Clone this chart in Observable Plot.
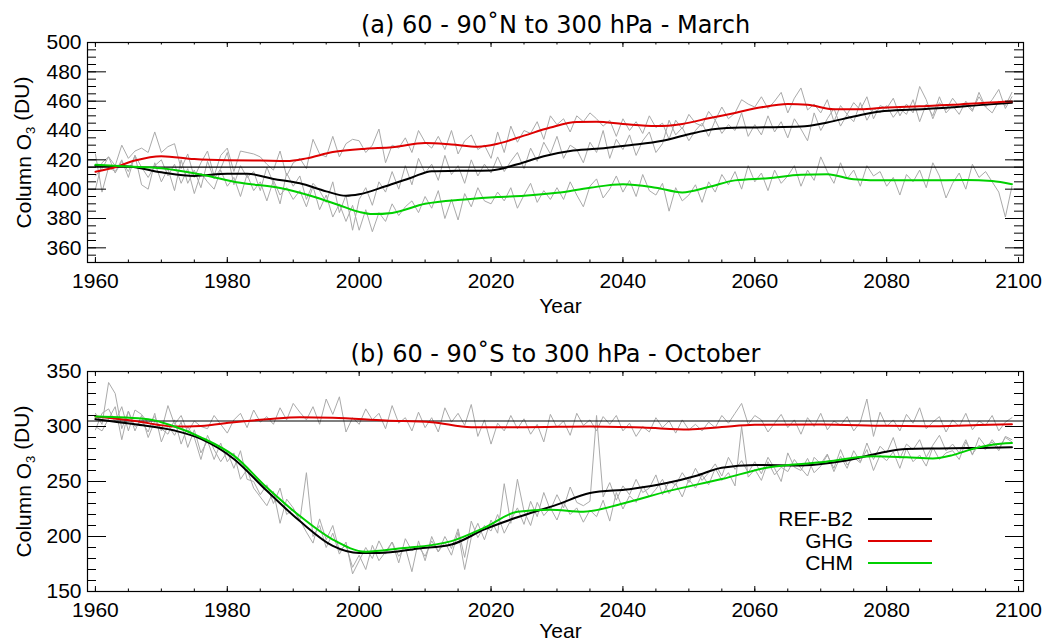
<!DOCTYPE html>
<html><head><meta charset="utf-8">
<script src="https://cdn.jsdelivr.net/npm/d3@7"></script>
<script src="https://cdn.jsdelivr.net/npm/@observablehq/plot@0.6"></script>
<style>
html,body{margin:0;padding:0;background:#fff;}
#wrap{position:relative;width:1054px;height:643px;overflow:hidden;font-family:"Liberation Sans",Arial,sans-serif;}
#wrap svg{position:absolute;left:0;}
.lgt{position:absolute;width:160px;text-align:right;font-size:21px;line-height:24px;color:#000;}
.lgl{position:absolute;width:64px;height:2px;}
</style></head><body><div id="wrap"></div>
<script>
// ---------- data ----------
const years = d3.range(1960, 2100);
const titleA = "(a) 60 - 90˚N to 300 hPa - March";
const titleB = "(b) 60 - 90˚S to 300 hPa - October";
const yLabel = "Column O3 (DU)";
const xLabel = "Year";
const seriesNames = ["REF-B2", "GHG", "CHM"];
const seriesColors = ["#000000", "#dd0000", "#00d000"];
const refLevelA = 415;
const refLevelB = 305;
const xMajorTicks = [1960, 1980, 2000, 2020, 2040, 2060, 2080, 2100];
const yMajorTicksA = [360, 380, 400, 420, 440, 460, 480, 500];
const yMajorTicksB = [150, 200, 250, 300, 350];

// smooth curves, panel a
const refA = [[1960,416],[1965,415.5],[1970,411.5],[1975,409],[1980,410.5],[1983,410.5],[1987,407],[1991,404],[1995,398.5],[1998,395.5],[2000,396.5],[2004,402],[2008,408],[2011,412.3],[2015,412.5],[2020,412.8],[2024,417],[2028,422.5],[2032,426],[2036,427.5],[2041,430],[2046,433],[2050,437.5],[2054,441],[2058,442],[2062,442.2],[2067,442.7],[2071,445.5],[2075,449.5],[2079,453],[2084,454.3],[2089,455.5],[2094,457.3],[2099,458.9]];
const ghgA = [[1960,411.8],[1963,415],[1966,419.5],[1970,422.5],[1975,420.5],[1980,419.7],[1985,419.5],[1989,419.2],[1992,421],[1996,425.3],[2001,427.6],[2005,428.5],[2010,431.5],[2014,430.5],[2018,429],[2021,431],[2025,436.5],[2029,442],[2033,445.8],[2036,446],[2040,444.5],[2045,443],[2049,444.5],[2053,448.3],[2057,452],[2061,455.8],[2065,458],[2068,457.5],[2072,454.5],[2076,454.5],[2080,455.7],[2085,456.5],[2090,457.5],[2095,459],[2099,459.8]];
const chmA = [[1960,416.6],[1965,415.4],[1970,414.2],[1976,410],[1982,404.3],[1988,400.8],[1993,395],[1997,389],[2000,384.5],[2002,383],[2005,383.8],[2010,390],[2016,393],[2021,394.7],[2025,395.5],[2030,397.5],[2035,401],[2040,403.4],[2045,401],[2049,397.8],[2053,401.5],[2057,406],[2062,407.5],[2067,409.8],[2071,410.2],[2075,406.8],[2080,406],[2086,406],[2092,406.3],[2096,405.5],[2099,403.4]];

// smooth curves, panel b
const refB = [[1960,306.7],[1966,302],[1972,296.3],[1976,288.7],[1981,270.5],[1986,241.5],[1991,214],[1996,191.5],[2000,185],[2003,185],[2009,189],[2014,192.7],[2019,206.5],[2024,217.5],[2030,229],[2035,239.5],[2041,243],[2047,249],[2051,255],[2055,262.5],[2060,265],[2067,264.5],[2071,266.5],[2075,270.5],[2079,276],[2083,279.6],[2088,280],[2094,280.5],[2099,281.1]];
const ghgB = [[1960,309.1],[1966,305],[1972,300],[1976,300.5],[1981,303.9],[1986,306.5],[1991,308.5],[1996,308],[2004,305.5],[2011,303.9],[2017,299.4],[2025,299.4],[2035,300],[2043,299],[2050,297.3],[2055,299.5],[2060,301.5],[2070,301.9],[2080,300.6],[2088,300.3],[2094,301.3],[2099,302]];
const chmB = [[1960,309.1],[1968,306.7],[1972,300],[1976,290.2],[1981,273.5],[1986,244.5],[1991,218.6],[1996,197.2],[2001,186.2],[2006,189],[2014,195.8],[2019,208],[2024,222.5],[2029,224.4],[2034,222.6],[2040,230],[2047,241.5],[2055,252.2],[2062,262.8],[2070,267.4],[2078,272.9],[2083,272],[2087,271],[2090,274],[2093,279.6],[2096,283.5],[2099,285]];

// annual values (grey), 1960..2099
const ghgA_annual = [400,418,422,416,430,421,426,428,425,439, 425,429,431,414,424,408,418,426,409,423, 428,412,426,425,424,422,417,413,426,409, 418,421,414,434,424,422,436,422,431,434, 433,425,430,441,418,430,428,435,425,440, 432,428,436,427,440,424,433,437,427,430, 421,439,425,443,432,440,438,446,434,450, 444,448,439,450,446,452,448,443,447,436, 448,440,446,438,450,442,445,434,447,441, 451,445,443,453,447,456,448,452,461,458, 456,463,455,460,466,452,462,469,454,458, 452,461,446,457,451,459,454,463,448,457, 455,462,450,458,452,470,461,448,459,454, 462,456,458,453,466,456,461,468,455,463];
const refA_annual = [424,398,415,412,420,408,423,403,400,418, 405,414,399,420,404,413,401,419,407,414, 425,403,416,408,412,399,415,404,390,411, 402,409,393,404,399,391,405,384,396,372, 393,401,389,405,398,412,400,416,403,421, 411,417,406,423,410,416,404,420,409,417, 411,422,412,419,425,414,428,419,432,424, 436,421,430,427,418,432,425,440,421,434, 427,437,423,433,439,425,431,447,437,442, 433,440,445,436,447,438,444,440,452,436, 444,437,450,439,446,435,448,441,433,452, 440,448,455,443,451,446,459,447,455,452, 457,449,455,451,461,446,458,450,463,452, 457,451,460,454,463,456,452,460,457,466];
const chmA_annual = [409,414,422,411,419,412,423,415,408,416, 420,409,417,404,414,397,411,405,400,413, 402,408,395,410,399,405,392,406,396,401, 393,399,388,402,386,396,381,390,378,389, 372,386,371,384,378,390,382,388,392,384, 395,387,399,380,393,379,397,388,401,392, 390,398,392,401,387,396,404,391,399,393, 401,393,405,396,388,402,407,394,400,409, 398,406,395,410,399,396,404,385,401,392, 396,403,391,405,398,410,403,412,400,416, 405,411,399,413,404,409,416,402,413,406, 422,412,404,418,407,413,402,416,409,412, 402,408,396,410,405,413,401,418,409,394, 404,411,400,417,408,412,405,398,381,402];
const ghgB_annual = [297,312,316,304,318,296,315,311,303,309, 296,319,302,310,295,305,300,298,310,302, 294,306,312,299,315,304,309,302,317,306, 321,313,306,318,302,325,311,327,295,308, 302,316,306,312,298,319,303,308,296,313, 299,308,295,317,304,312,301,320,291,306, 284,303,296,310,298,307,293,302,286,311, 299,305,292,312,301,306,296,309,302,310, 296,303,291,300,295,308,299,305,294,306, 297,302,296,304,299,310,303,312,321,302, 310,306,295,303,311,299,306,293,308,300, 312,297,305,301,309,296,304,325,291,313, 300,306,296,311,303,317,298,304,309,295, 306,300,312,297,305,301,310,296,304,308];
const refB_annual = [312,302,340,330,298,314,296,310,290,305, 298,293,306,284,300,290,270,292,279,268, 277,262,278,252,250,238,247,230,244,220, 225,214,258,200,210,190,203,184,195,166, 178,190,180,196,184,195,176,198,187,191, 182,196,186,200,189,207,181,214,199,210, 205,220,203,215,226,211,232,218,240,224, 238,226,245,231,228,232,310,236,249,233, 246,238,252,240,244,256,238,250,247,258, 249,262,251,258,266,255,272,261,269,258, 268,257,272,262,250,276,263,260,271,258, 264,274,262,279,265,272,267,285,270,282, 276,290,271,284,279,288,272,283,292,278, 284,276,288,274,290,282,286,278,291,288];
const chmB_annual = [300,296,307,318,288,314,300,305,295,312, 286,301,292,304,281,297,276,287,270,285, 268,276,252,261,244,236,228,241,212,234, 226,215,204,194,216,197,210,187,192,172, 183,170,192,178,186,195,182,190,168,196, 178,200,186,195,183,204,170,199,212,197, 215,203,248,212,252,223,210,231,219,226, 215,231,220,226,213,224,218,233,214,240, 225,237,231,246,236,243,252,239,248,236, 252,244,256,247,262,251,258,246,300,254, 261,251,268,256,263,259,270,262,255,272, 266,275,259,273,262,278,268,279,260,274, 269,277,262,280,268,274,264,281,270,276, 278,270,286,275,283,279,288,280,290,286];

// ---------- drawing ----------
const W = 1054, ML = 87, MR = 31;
const FW = W - ML - MR;
const FONT = "Liberation Sans, Arial, Helvetica, sans-serif";

function makePanel(o) {
  const FH = o.height - o.marginTop - o.marginBottom;
  const grey = [];
  o.annual.forEach((arr, k) => arr.forEach((v, i) => grey.push({year: years[i], v, s: k})));
  const smoothMarks = [0, 1, 2].map(k => Plot.line(o.smooth[k].map(([year, v]) => ({year, v})),
    {x: "year", y: "v", stroke: seriesColors[k], strokeWidth: 2, curve: "monotone-x"}));
  const xMinor = d3.range(1960, 2101, 5);
  const yMinor = d3.range(o.yDomain[0], o.yDomain[1] + 0.01, o.yMinorStep);
  const svg = Plot.plot({
    width: W, height: o.height,
    marginLeft: ML, marginRight: MR, marginTop: o.marginTop, marginBottom: o.marginBottom,
    style: {fontFamily: FONT, fontSize: "21px", background: "white", color: "black"},
    x: {domain: [1958.8, 2100.75]},
    y: {domain: o.yDomain},
    marks: [
      Plot.line(grey, {x: "year", y: "v", z: "s", stroke: "#aaaaaa", strokeWidth: 1}),
      Plot.ruleY([o.refLevel], {stroke: "black", strokeWidth: 1.2}),
      smoothMarks[0], smoothMarks[1], smoothMarks[2],
      Plot.frame({stroke: "black", strokeWidth: 1.2}),
      // inward ticks on all four sides
      Plot.tickY(o.yMajor, {y: d => d, insetRight: FW - 19, stroke: "black"}),
      Plot.tickY(yMinor, {y: d => d, insetRight: FW - 9, stroke: "black"}),
      Plot.tickY(o.yMajor, {y: d => d, insetLeft: FW - 18, stroke: "black"}),
      Plot.tickY(yMinor, {y: d => d, insetLeft: FW - 9, stroke: "black"}),
      Plot.tickX(xMajorTicks, {x: d => d, insetTop: FH - 5, stroke: "black"}),
      Plot.tickX(xMinor, {x: d => d, insetTop: FH - 2.5, stroke: "black"}),
      Plot.tickX(xMajorTicks, {x: d => d, insetBottom: FH - 5, stroke: "black"}),
      Plot.tickX(xMinor, {x: d => d, insetBottom: FH - 2.5, stroke: "black"}),
      Plot.axisX({ticks: xMajorTicks, tickSize: 0, tickPadding: 11, tickFormat: d => String(d), fontSize: 21, label: null}),
      Plot.axisY({ticks: o.yMajor, tickSize: 0, tickPadding: 6, tickFormat: d => String(d), fontSize: 21, label: null}),
      Plot.text([o.title], {frameAnchor: "top", dy: -10, lineAnchor: "bottom", fontSize: 24, fontFamily: "DejaVu Sans, sans-serif"}),
      Plot.text([xLabel], {frameAnchor: "bottom", dx: 5, dy: o.xLabelDy, lineAnchor: "bottom", fontSize: 21}),
      Plot.text([yLabel], {frameAnchor: "left", dx: -63, rotate: -90, textAnchor: "middle", lineAnchor: "middle", fontSize: 21})
    ]
  });
  // subscript 3 in the y label
  d3.select(svg).selectAll("text").filter(function() { return this.textContent === yLabel; })
    .each(function() {
      const t = d3.select(this);
      t.text(null);
      t.append("tspan").text("Column O");
      t.append("tspan").attr("font-size", "13px").attr("dy", "0.3em").text("3");
      t.append("tspan").attr("dy", "-0.3em").text(" (DU)");
    });
  svg.style.top = o.top + "px";
  return svg;
}

const wrap = document.getElementById("wrap");
wrap.appendChild(makePanel({
  top: 0, height: 320, marginTop: 42, marginBottom: 58,
  yDomain: [350, 500], yMinorStep: 5, yMajor: yMajorTicksA, refLevel: refLevelA,
  annual: [refA_annual, ghgA_annual, chmA_annual], smooth: [refA, ghgA, chmA],
  title: titleA, xLabelDy: 50
}));
wrap.appendChild(makePanel({
  top: 320, height: 323, marginTop: 51, marginBottom: 52,
  yDomain: [150, 350], yMinorStep: 10, yMajor: yMajorTicksB, refLevel: refLevelB,
  annual: [refB_annual, ghgB_annual, chmB_annual], smooth: [refB, ghgB, chmB],
  title: titleB, xLabelDy: 46
}));

// legend (panel b)
const legendY = [519, 540.7, 562.7];
seriesNames.forEach((name, k) => {
  const t = document.createElement("div");
  t.className = "lgt";
  t.style.left = (853 - 160) + "px";
  t.style.top = (legendY[k] - 12) + "px";
  t.textContent = name;
  wrap.appendChild(t);
  const l = document.createElement("div");
  l.className = "lgl";
  l.style.left = "868px";
  l.style.top = (legendY[k] - 1) + "px";
  l.style.background = seriesColors[k];
  wrap.appendChild(l);
});
</script></body></html>
